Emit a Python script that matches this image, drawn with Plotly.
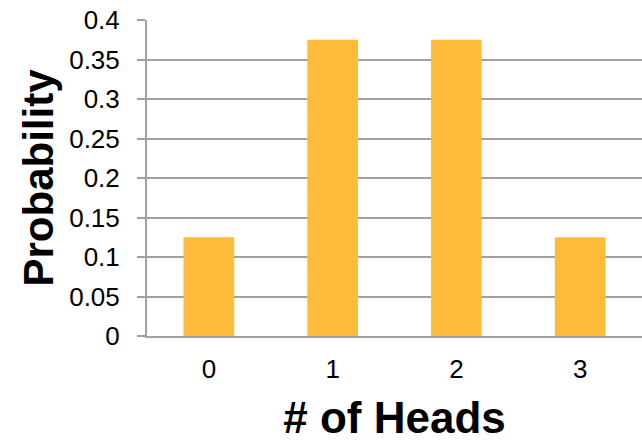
import plotly.graph_objects as go

heads = ["0", "1", "2", "3"]
probability = [0.125, 0.375, 0.375, 0.125]
y_tick_values = [0, 0.05, 0.1, 0.15, 0.2, 0.25, 0.3, 0.35, 0.4]
y_tick_labels = ["0", "0.05", "0.1", "0.15", "0.2", "0.25", "0.3", "0.35", "0.4"]

GRAY = "#A0A0A0"
FONT = "Liberation Sans, Arial, sans-serif"

fig = go.Figure(
    go.Bar(
        x=heads,
        y=probability,
        marker=dict(color="#FFBC3A", line=dict(width=0)),
        hovertemplate="Heads: %{x}<br>Probability: %{y}<extra></extra>",
    )
)

fig.update_layout(
    width=642,
    height=442,
    margin=dict(l=147, r=0, t=20, b=106),
    paper_bgcolor="white",
    plot_bgcolor="white",
    bargap=0.59,
    showlegend=False,
    font=dict(family=FONT, color="black"),
)

fig.update_xaxes(
    type="category",
    range=[-0.5, 3.5],
    automargin=False,
    showline=True,
    linecolor=GRAY,
    linewidth=2,
    ticks="",
    showgrid=False,
    tickfont=dict(size=26, family=FONT, color="black"),
    ticklabelstandoff=9,
    title=dict(text="# of Heads", font=dict(size=44, family=FONT, weight="bold", color="black"), standoff=30),
)

fig.update_yaxes(
    range=[0, 0.4],
    automargin=False,
    tickvals=y_tick_values,
    ticktext=y_tick_labels,
    showline=True,
    linecolor=GRAY,
    linewidth=2,
    ticks="outside",
    ticklen=8,
    tickwidth=2,
    tickcolor=GRAY,
    showgrid=True,
    gridcolor=GRAY,
    gridwidth=2,
    zeroline=False,
    tickfont=dict(size=26, family=FONT, color="black"),
    ticklabelstandoff=12,
    title=dict(text="Probability", font=dict(size=42, family=FONT, weight="bold", color="black"), standoff=2),
)

fig.write_html("out.html")
